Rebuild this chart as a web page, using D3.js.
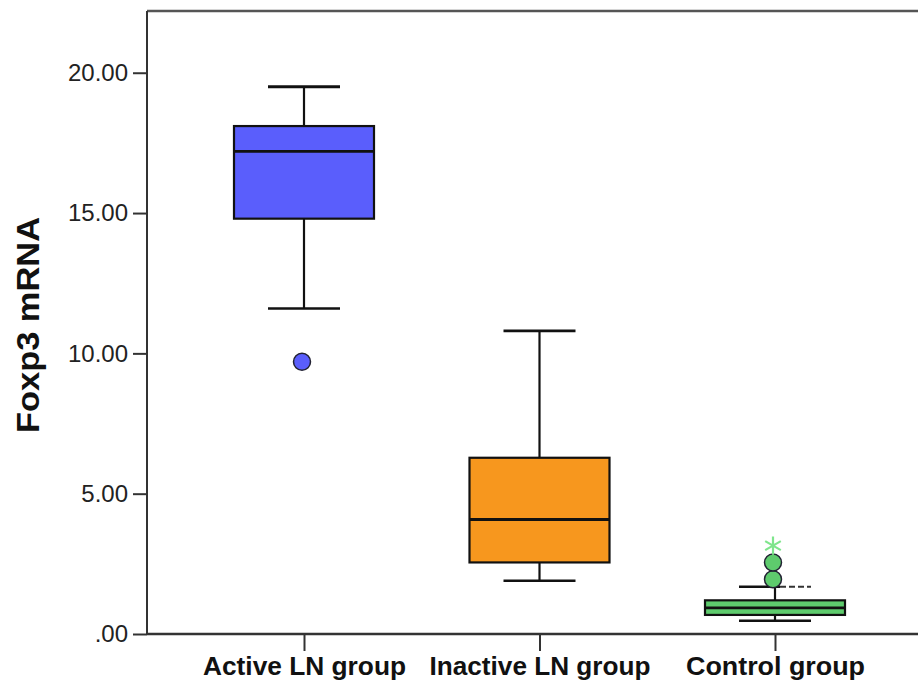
<!DOCTYPE html>
<html>
<head>
<meta charset="utf-8">
<script src="https://cdn.jsdelivr.net/npm/d3@7"></script>
<style>
  html, body { margin: 0; padding: 0; background: #fff; }
  svg { display: block; }
</style>
</head>
<body>
<script>
// ---- data ----
const categories = ["Active LN group", "Inactive LN group", "Control group"];
const whiskerLow  = [11.6, 1.9, 0.47];
const q1          = [14.8, 2.55, 0.68];
const median      = [17.2, 4.08, 0.93];
const q3          = [18.1, 6.28, 1.2];
const whiskerHigh = [19.5, 10.8, 1.68];
const outliers = [
  { group: "Active LN group", value: 9.7 },
  { group: "Control group", value: 1.95 },
  { group: "Control group", value: 2.55 }
];
const extremes = [
  { group: "Control group", value: 3.15 }
];
const yTicks = [0, 5, 10, 15, 20];
const yTickLabels = [".00", "5.00", "10.00", "15.00", "20.00"];
const yLabel = "Foxp3 mRNA";
const colors = ["#5a5efc", "#f7971e", "#5ecb6d"];
const outlierColors = { "Active LN group": "#5a5efc", "Control group": "#5ecb6d" };

// ---- layout ----
const W = 918, H = 686;
const mLeft = 147, mTop = 11, mRight = 918, mBottom = 634;
const boxW = 140, capW = 72;

const svg = d3.select("body").append("svg").attr("width", W).attr("height", H);

const y = d3.scaleLinear().domain([0, 22.2]).range([mBottom, mTop]);
const x = d3.scalePoint().domain(categories).range([304, 775]);

// frame
svg.append("line").attr("x1", mLeft).attr("x2", mRight).attr("y1", mTop).attr("y2", mTop)
  .attr("stroke", "#555").attr("stroke-width", 2.5);

// y axis
const yAxis = svg.append("g").attr("transform", `translate(${mLeft},0)`)
  .call(d3.axisLeft(y).tickValues(yTicks).tickSize(14).tickPadding(5)
    .tickFormat((d, i) => yTickLabels[i]));
yAxis.select(".domain").attr("stroke", "#333").attr("stroke-width", 2)
  .attr("d", `M0,${mTop}V${mBottom}`);
yAxis.selectAll(".tick line").attr("stroke", "#333").attr("stroke-width", 2);
yAxis.selectAll(".tick text").attr("font-family", "Liberation Sans, Arial, sans-serif")
  .attr("font-size", 24).attr("fill", "#222");

// x axis
const xAxis = svg.append("g").attr("transform", `translate(0,${mBottom})`)
  .call(d3.axisBottom(x).tickSize(17).tickPadding(6));
xAxis.select(".domain").attr("stroke", "#333").attr("stroke-width", 2.5)
  .attr("d", `M${mLeft},0H${mRight}`);
xAxis.selectAll(".tick line").attr("stroke", "#333").attr("stroke-width", 2);
const xLens = { "Active LN group": 203, "Inactive LN group": 221, "Control group": 179 };
xAxis.selectAll(".tick text").attr("font-family", "Liberation Sans, Arial, sans-serif")
  .attr("font-size", 25).attr("font-weight", "bold").attr("fill", "#111")
  .attr("textLength", d => xLens[d]).attr("lengthAdjust", "spacingAndGlyphs");

// y label
svg.append("text")
  .attr("transform", `translate(39,325) rotate(-90)`)
  .attr("text-anchor", "middle")
  .attr("font-family", "Liberation Sans, Arial, sans-serif")
  .attr("font-size", 31).attr("font-weight", "bold").attr("fill", "#111")
  .attr("textLength", 216).attr("lengthAdjust", "spacingAndGlyphs")
  .text(yLabel);

// boxes
const groups = svg.append("g").selectAll("g").data(categories).join("g");
groups.each(function (c, i) {
  const g = d3.select(this);
  const cx = x(c);
  g.append("line").attr("x1", cx).attr("x2", cx).attr("y1", y(whiskerHigh[i])).attr("y2", y(q3[i]))
    .attr("stroke", "#111").attr("stroke-width", 2.2);
  g.append("line").attr("x1", cx).attr("x2", cx).attr("y1", y(q1[i])).attr("y2", y(whiskerLow[i]))
    .attr("stroke", "#111").attr("stroke-width", 2.2);
  if (c === "Control group") {
    g.append("line").attr("x1", cx - capW / 2).attr("x2", cx + 5).attr("y1", y(whiskerHigh[i])).attr("y2", y(whiskerHigh[i]))
      .attr("stroke", "#111").attr("stroke-width", 2.5);
    g.append("line").attr("x1", cx + 5).attr("x2", cx + capW / 2).attr("y1", y(whiskerHigh[i])).attr("y2", y(whiskerHigh[i]))
      .attr("stroke", "#333").attr("stroke-width", 2).attr("stroke-dasharray", "6,3");
  } else {
    g.append("line").attr("x1", cx - capW / 2).attr("x2", cx + capW / 2).attr("y1", y(whiskerHigh[i])).attr("y2", y(whiskerHigh[i]))
      .attr("stroke", "#111").attr("stroke-width", 2.8);
  }
  g.append("line").attr("x1", cx - capW / 2).attr("x2", cx + capW / 2).attr("y1", y(whiskerLow[i])).attr("y2", y(whiskerLow[i]))
    .attr("stroke", "#111").attr("stroke-width", 2.5);
  g.append("rect").attr("x", cx - boxW / 2).attr("width", boxW)
    .attr("y", y(q3[i])).attr("height", y(q1[i]) - y(q3[i]))
    .attr("fill", colors[i]).attr("stroke", "#111").attr("stroke-width", 2.2);
  g.append("line").attr("x1", cx - boxW / 2).attr("x2", cx + boxW / 2).attr("y1", y(median[i])).attr("y2", y(median[i]))
    .attr("stroke", "#111").attr("stroke-width", 2.8);
});

// outliers
svg.append("g").selectAll("circle").data(outliers).join("circle")
  .attr("cx", d => x(d.group) - 2).attr("cy", d => y(d.value)).attr("r", 8.5)
  .attr("fill", d => outlierColors[d.group]).attr("stroke", "#223").attr("stroke-width", 1.5);

// extremes
svg.append("g").selectAll("path").data(extremes).join("path")
  .attr("transform", d => `translate(${x(d.group) - 2},${y(d.value)})`)
  .attr("d", d3.symbol(d3.symbolAsterisk, 230)())
  .attr("fill", "none").attr("stroke", "#7fe58c").attr("stroke-width", 2.2);
</script>
</body>
</html>
